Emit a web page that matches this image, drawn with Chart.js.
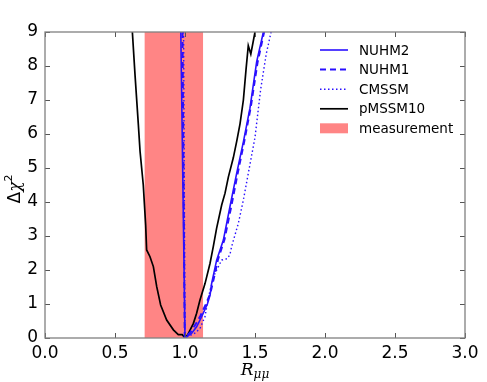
<!DOCTYPE html>
<html lang="en">
<head>
    <meta charset="UTF-8">
    <title>Delta chi2 vs R_mumu</title>
    <style>
        html, body { margin: 0; padding: 0; background: #fff; }
        #wrap { width: 487px; height: 382px; position: relative; }
    </style>
</head>
<body>
    <div id="wrap"><canvas id="myChart"></canvas></div>

    <script src="https://cdn.jsdelivr.net/npm/chart.js@4.4.0/dist/chart.umd.min.js"></script>
    <script type="text/javascript">
    // values
    const nuhm2X = [0.970, 1.000, 1.048, 1.083, 1.119, 1.160, 1.179, 1.190, 1.226, 1.274, 1.321, 1.369, 1.417, 1.464, 1.512, 1.560];
    const nuhm2Y = [9.00, 0.00, 0.14, 0.33, 0.63, 1.00, 1.26, 1.60, 2.29, 2.88, 3.86, 4.84, 5.77, 6.76, 8.13, 9.00];

    const nuhm1X = [0.982, 0.998, 1.040, 1.075, 1.110, 1.150, 1.180, 1.200, 1.235, 1.282, 1.330, 1.376, 1.424, 1.470, 1.518, 1.565];
    const nuhm1Y = [9.00, 0.00, 0.18, 0.40, 0.65, 1.00, 1.30, 1.65, 2.30, 2.90, 3.86, 4.84, 5.80, 6.80, 8.10, 9.00];

    const cmssmX = [0.990, 1.000, 1.070, 1.107, 1.143, 1.155, 1.179, 1.214, 1.262, 1.300, 1.321, 1.333, 1.381, 1.417, 1.452, 1.500, 1.540, 1.580, 1.615];
    const cmssmY = [9.00, 0.00, 0.14, 0.28, 0.63, 0.92, 1.41, 1.90, 2.29, 2.33, 2.45, 2.69, 3.37, 4.06, 4.84, 5.90, 7.30, 8.35, 9.00];

    const pmssmX = [0.624, 0.643, 0.667, 0.679, 0.702, 0.719, 0.726, 0.750, 0.774, 0.798, 0.826, 0.869, 0.917, 0.952, 0.980, 0.990, 1.000,
                    1.020, 1.060, 1.083, 1.107, 1.143, 1.179, 1.202, 1.226, 1.262, 1.286, 1.310, 1.345, 1.370, 1.393, 1.417, 1.436, 1.452, 1.470, 1.500];
    const pmssmY = [9.00, 7.74, 6.26, 5.49, 4.50, 3.32, 2.59, 2.39, 2.10, 1.51, 0.97, 0.53, 0.24, 0.10, 0.10, 0.05, 0.00,
                    0.10, 0.43, 0.73, 1.12, 1.60, 2.20, 2.69, 3.23, 3.91, 4.26, 4.74, 5.30, 5.80, 6.30, 7.00, 7.90, 8.60, 8.35, 9.00];

    const bandX = [0.71, 1.13];
    const bandY = [9, 9];

    const xTicks = [0, 0.5, 1, 1.5, 2, 2.5, 3];
    const yTicks = [0, 1, 2, 3, 4, 5, 6, 7, 8, 9];

    const blue = '#2a10ff';
    const pts = (xs, ys) => xs.map((x, i) => ({ x: x, y: ys[i] }));

    const names = ['NUHM2', 'NUHM1', 'CMSSM', 'pMSSM10', 'measurement'];

    // frame, inward ticks, axis titles, legend
    const decor = {
        id: 'decor',
        afterDraw(chart) {
            const ctx = chart.ctx;
            const a = chart.chartArea;
            const sx = chart.scales.x, sy = chart.scales.y;
            ctx.save();
            ctx.strokeStyle = '#555';
            ctx.lineWidth = 1;
            xTicks.forEach(v => {
                const p = Math.round(sx.getPixelForValue(v)) + 0.5;
                ctx.beginPath();
                ctx.moveTo(p, a.bottom); ctx.lineTo(p, a.bottom - 5);
                ctx.moveTo(p, a.top); ctx.lineTo(p, a.top + 5);
                ctx.stroke();
            });
            yTicks.forEach(v => {
                const p = Math.round(sy.getPixelForValue(v)) + 0.5;
                ctx.beginPath();
                ctx.moveTo(a.left, p); ctx.lineTo(a.left + 5, p);
                ctx.moveTo(a.right, p); ctx.lineTo(a.right - 5, p);
                ctx.stroke();
            });
            ctx.strokeStyle = '#808080';
            ctx.lineWidth = 1.3;
            ctx.strokeRect(a.left, a.top, a.right - a.left, a.bottom - a.top);

            // x title R_{mu mu}
            ctx.fillStyle = '#000';
            ctx.textBaseline = 'alphabetic';
            ctx.textAlign = 'left';
            const cx = (a.left + a.right) / 2;
            ctx.font = 'italic 17px "DejaVu Serif"';
            const wR = ctx.measureText('R').width;
            ctx.font = 'italic 12px "DejaVu Serif"';
            const wS = ctx.measureText('μμ').width;
            let x0 = cx - (wR + wS) / 2;
            ctx.font = 'italic 17px "DejaVu Serif"';
            ctx.fillText('R', x0, 375);
            ctx.font = 'italic 12px "DejaVu Serif"';
            ctx.fillText('μμ', x0 + wR, 378);

            // y title Delta chi^2
            ctx.translate(20, 189);
            ctx.rotate(-Math.PI / 2);
            ctx.font = '17px "DejaVu Sans"';
            const wD = ctx.measureText('Δ').width;
            ctx.font = 'italic 17px "DejaVu Serif"';
            const wC = ctx.measureText('χ').width;
            let y0 = -(wD + wC + 7) / 2;
            ctx.font = '17px "DejaVu Sans"';
            ctx.fillText('Δ', y0, 0);
            ctx.font = 'italic 17px "DejaVu Serif"';
            ctx.fillText('χ', y0 + wD, 0);
            ctx.font = '11px "DejaVu Sans"';
            ctx.fillText('2', y0 + wD + wC, -8);
            ctx.restore();

            // legend
            ctx.save();
            ctx.font = '13.5px "DejaVu Sans"';
            ctx.textBaseline = 'middle';
            ctx.fillStyle = '#000';
            const rows = [50, 69.5, 89.3, 108.8, 128.3];
            chart.data.datasets.forEach((ds, i) => {
                const yy = rows[i];
                if (i === 4) {
                    ctx.fillStyle = ds.backgroundColor;
                    ctx.fillRect(320, yy - 5, 28, 10);
                } else {
                    ctx.strokeStyle = ds.borderColor;
                    ctx.lineWidth = ds.borderWidth;
                    ctx.setLineDash(ds.borderDash || []);
                    ctx.beginPath();
                    ctx.moveTo(320, yy); ctx.lineTo(348, yy);
                    ctx.stroke();
                    ctx.setLineDash([]);
                }
                ctx.fillStyle = '#000';
                ctx.fillText(names[i], 359, yy + 1);
            });
            ctx.restore();
        }
    };

    var ctx = document.getElementById('myChart').getContext('2d');
    var chart = new Chart(ctx, {
        type: 'line',
        data: {
            datasets: [
                { label: names[0], data: pts(nuhm2X, nuhm2Y), borderColor: blue, borderWidth: 1.6 },
                { label: names[1], data: pts(nuhm1X, nuhm1Y), borderColor: blue, borderWidth: 2, borderDash: [6, 4] },
                { label: names[2], data: pts(cmssmX, cmssmY), borderColor: blue, borderWidth: 1.4, borderDash: [1.5, 2.5] },
                { label: names[3], data: pts(pmssmX, pmssmY), borderColor: '#000', borderWidth: 1.7 },
                { label: names[4], data: pts(bandX, bandY), borderColor: 'rgba(255,0,0,0)', borderWidth: 0,
                  backgroundColor: 'rgba(255,0,0,0.48)', fill: 'origin' }
            ]
        },
        options: {
            responsive: true,
            maintainAspectRatio: false,
            animation: false,
            layout: { padding: { top: 32, right: 22, left: 0, bottom: 0 } },
            elements: { point: { radius: 0 }, line: { tension: 0 } },
            plugins: { legend: { display: false }, tooltip: { enabled: false } },
            scales: {
                x: {
                    type: 'linear', min: 0, max: 3,
                    grid: { display: false, drawTicks: false },
                    border: { display: false },
                    afterFit: s => { s.height = 44; },
                    afterBuildTicks: s => { s.ticks = xTicks.map(v => ({ value: v })); },
                    ticks: { color: '#000', padding: 5, maxRotation: 0,
                             font: { family: 'DejaVu Sans', size: 17 },
                             callback: v => Number(v).toFixed(1) }
                },
                y: {
                    type: 'linear', min: 0, max: 9,
                    grid: { display: false, drawTicks: false },
                    border: { display: false },
                    afterFit: s => { s.width = 45; },
                    afterBuildTicks: s => { s.ticks = yTicks.map(v => ({ value: v })); },
                    ticks: { color: '#000', padding: 7,
                             font: { family: 'DejaVu Sans', size: 17 } }
                }
            }
        },
        plugins: [decor]
    });
    </script>
</body>
</html>
